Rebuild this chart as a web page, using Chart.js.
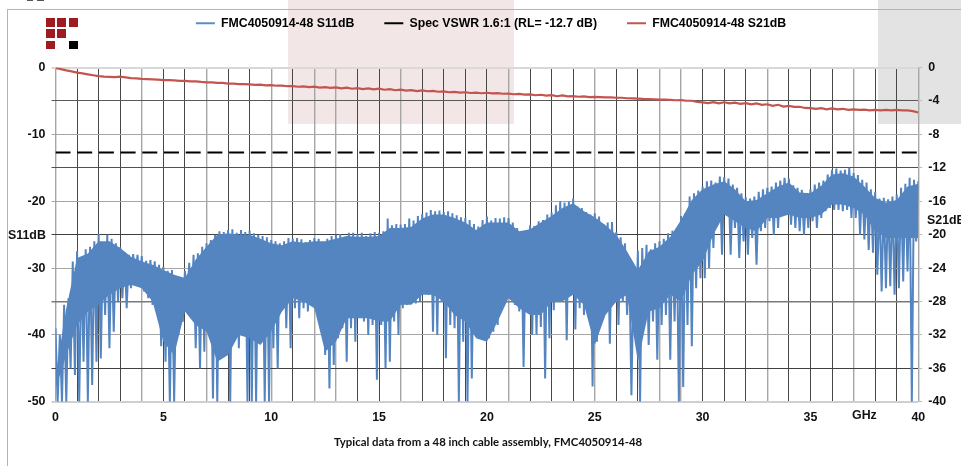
<!DOCTYPE html>
<html>
<head>
<meta charset="utf-8">
<style>
html,body{margin:0;padding:0;background:#fff;width:961px;height:466px;overflow:hidden}
#wrap{position:relative;width:961px;height:466px;overflow:hidden}
#wrap>div{position:absolute}
canvas{position:absolute;left:0;top:0}
.lab{font:bold 12.4px "Liberation Sans",Arial,sans-serif;color:#111;white-space:nowrap;line-height:14px}
</style>
<script src="https://cdn.jsdelivr.net/npm/chart.js@4/dist/chart.umd.js"></script>
</head>
<body>
<div id="wrap">
  <div style="left:288px;top:0;width:226px;height:124px;background:#f3e6e6"></div>
  <div style="left:878px;top:0;width:83px;height:124px;background:#e3e3e3"></div>
  <div style="left:7px;top:9px;width:954px;height:1px;background:#b4b4b4"></div>
  <div style="left:7px;top:9px;width:1px;height:457px;background:#b4b4b4"></div>
  <div style="left:27px;top:0;width:6px;height:1px;background:#555"></div>
  <div style="left:37px;top:0;width:7px;height:1px;background:#555"></div>
  <div style="left:46px;top:18px;width:9px;height:8.5px;background:#9e1c20"></div>
  <div style="left:57px;top:18px;width:9px;height:8.5px;background:#9e1c20"></div>
  <div style="left:69px;top:18px;width:9px;height:8.5px;background:#9e1c20"></div>
  <div style="left:46px;top:29px;width:9px;height:8.5px;background:#9e1c20"></div>
  <div style="left:57px;top:29px;width:9px;height:8.5px;background:#9e1c20"></div>
  <div style="left:46px;top:40.5px;width:9px;height:8.5px;background:#9e1c20"></div>
  <div style="left:69px;top:40.5px;width:9px;height:8.5px;background:#000"></div>
  <canvas id="c" width="961" height="466"></canvas>
  <div class="lab" style="left:8px;top:228px">S11dB</div>
  <div class="lab" style="left:927px;top:213px">S21dB</div>
  <div class="lab" style="left:852px;top:408px">GHz</div>
</div>
<script>
const legendNames = ["FMC4050914-48 S11dB", "Spec VSWR 1.6:1 (RL= -12.7 dB)", "FMC4050914-48 S21dB"];
const captionText = "Typical data from a 48 inch cable assembly, FMC4050914-48";
const specLevel = -12.7;
const specFreq = [0, 40];

// S11 peaks read every 0.2 GHz
const s11Upper = [
-39,-40,-35.5,-34.5,-29, -27.5,-29,-27.2,-26.8,-26,
-24.9,-26.5,-25,-25.6,-26.3, -26.9,-27.6,-28,-27.9,-28,
-28.2,-28.9,-28.8,-29,-29.5, -29.8,-30.4,-30.3,-31.4,-33,
-30.4,-29.2,-28,-27.8,-26.8, -26.3,-25.8,-25,-24.5,-24.6,
-24.3,-24.2,-24.7,-24.3,-24.6, -24.4,-24.8,-25,-25.2,-25.4,
-25.8,-26,-26.3,-26,-25.5, -25.6,-25.5,-25.7,-26.1,-25.8,
-25.5,-25.6,-27.5,-25.6,-25.2, -25,-24.9,-25.3,-24.7,-24.7,
-24.9,-24.7,-25.2,-24.8,-24.6, -24.7,-24.5,-22.6,-23.6,-23.4,
-23.5,-23.4,-22.6,-22.9,-22.2, -21.9,-21.7,-21.3,-21.5,-21.4,
-21.6,-21.5,-21.8,-22.1,-22.4, -22.5,-22.8,-23.4,-23.8,-22.8,
-22.3,-22.9,-22.5,-22.6,-22.4, -22.5,-23.2,-24,-25,-26.8,
-23.6,-23.7,-23,-22.8,-22, -21.7,-20.6,-20,-20.2,-20,
-19.6,-20.8,-21,-21.6,-22, -21.8,-22.3,-23.4,-23.2,-23.1,
-24.6,-25.4,-26.3,-28.8,-30, -27.4,-27,-26.5,-27.2,-26.3,
-26,-25.6,-24.8,-24.4,-24, -22.2,-21.8,-19.3,-18.8,-18.4,
-17.8,-17,-16.9,-17.2,-16.3, -16.4,-16.6,-17.5,-18,-18.8,
-19.4,-19.6,-19.3,-18.6,-18.2, -18,-17.8,-17.2,-16.9,-16.5,
-16.6,-17.6,-18,-18.3,-18.8, -18.2,-17.5,-17.2,-16.9,-16,
-15.3,-15.1,-15.4,-15.3,-15, -15.8,-16.1,-16.8,-17.2,-18.2,
-18.6,-19.6,-19.5,-19.7,-19.3, -19,-18,-17.4,-16.5,-16.8, -17
];
// S11 dips read every 0.2 GHz, offset by 0.1 GHz
const s11Lower = [
-50,-50,-50,-45,-46, -50,-44,-50,-47.5,-44,
-43.5,-37,-42,-39.5,-35, -34.5,-36,-33,-32,-31.8,
-33.5,-34.5,-35.5,-36,-41.7, -44,-50,-50,-40,-38,
-35.5,-37,-42,-45,-42.5, -38,-49.5,-50,-41,-42,
-50,-39,-42,-38.5,-50, -50,-50,-41,-50,-50,
-42,-45,-36,-39,-42, -36,-37.5,-36,-36.5,-35.5,
-36.5,-37,-43,-48,-44.5, -40.5,-39,-44,-39,-41,
-37,-38,-40,-38.5,-46.7, -38.5,-45,-44,-38,-40,
-36,-35.5,-35,-35.3,-35, -33,-34,-39.5,-40,-35,
-43.5,-38.5,-39,-50,-41, -50,-46.5,-39.6,-36.5,-38,
-40.5,-39.5,-38.5,-35.5,-34, -28,-35.5,-36.5,-44.8,-35,
-40,-40,-38.8,-46.5,-40.5, -36.3,-31,-34.5,-40.8,-34,
-39.2,-36,-37,-35,-47.7, -41,-37,-36,-41.3,-35,
-38.5,-35,-37,-49,-40, -50,-37,-41.5,-38,-43.7,
-38.5,-37,-43.7,-38,-50, -47.8,-38.5,-41.7,-33,-31.5,
-31.5,-30,-27,-23.5,-28, -22,-28,-24,-28.5,-26,
-28,-25.5,-29.5,-24.5,-24, -23,-25,-24,-21.5,-22,
-23.5,-24,-24.5,-25,-24, -23,-24,-22.5,-21.5,-21,
-21.3,-21.3,-21.5,-21.3,-22.5, -22.5,-25,-25.7,-27.3,-27.7,
-31,-33.5,-33,-32.7,-34, -33,-32,-30.5,-50,-26
];
// Solid body of the S11 trace, read every 0.5 GHz
const s11BodyTop = [
-46,-36,-28.5,-27.8,-26,-26,-27,-28.3,-29,-29.5,-30.3,-31,-31.5,-28.7,-26.8,-25,-24.8,-25,-25,-25.6,
-26.3,-26.6,-26,-26.2,-26,-26,-25.6,-25.2,-25.3,-25.3,-25.2,-24,-24,-23.8,-22.6,-22,-22,-22.5,-23.2,-24.3,
-23.2,-23.2,-23.2,-24.5,-24.2,-23.2,-22.2,-21,-20.3,-21.5,-22.4,-23.6,-25,-27.5,-30.3,-27.5,-26.8,-25.3,-22.8,-19.8,
-18.2,-17.5,-17,-18.2,-20,-19.8,-18.8,-17.8,-17.2,-18.7,-18.8,-17.7,-16,-15.8,-16.3,-17.8,-19.5,-20.2,-19.8,-17.8,-17.4
];
const s11BodyBottom = [
-48,-43,-38.5,-36.5,-35.5,-34,-33,-32.5,-33,-35,-41,-43,-36.5,-38.5,-39.5,-44,-43,-40,-40.5,-41.5,
-39.5,-36.5,-34.5,-35,-36,-42.5,-41,-37.5,-37.5,-37.5,-38,-38,-35.5,-35.5,-34,-34,-35,-37,-38,-40.5,
-41,-38,-34.5,-36,-37,-37,-35,-35,-34,-35.5,-41.5,-37,-35,-34,-44,-36.5,-36,-34,-35,-31,
-29,-25,-22,-23,-24,-24.5,-22.5,-22.5,-22,-22.5,-22.5,-22,-20.5,-20.5,-21,-22,-24.5,-25.5,-25.5,-25.5,-25.5
];
// S21 read every 0.25 GHz, right axis
const s21Values = [
-0.05,-0.2,-0.35,-0.47,-0.62,-0.7,-0.82,-0.93,-1.03,-1.09,-1.12,-1.14,-1.1,-1.18,-1.26,-1.3,
-1.36,-1.39,-1.43,-1.46,-1.5,-1.52,-1.55,-1.59,-1.6,-1.66,-1.67,-1.73,-1.77,-1.78,-1.84,-1.85,
-1.92,-1.93,-1.99,-2.0,-2.03,-2.08,-2.06,-2.13,-2.12,-2.18,-2.17,-2.24,-2.22,-2.3,-2.26,-2.34,
-2.3,-2.4,-2.34,-2.44,-2.38,-2.5,-2.42,-2.54,-2.46,-2.58,-2.5,-2.62,-2.54,-2.66,-2.6,-2.72,
-2.66,-2.76,-2.7,-2.82,-2.74,-2.84,-2.8,-2.9,-2.86,-2.96,-2.92,-3.0,-2.96,-3.05,-3.0,-3.08,
-3.02,-3.1,-3.06,-3.14,-3.12,-3.2,-3.16,-3.24,-3.22,-3.32,-3.26,-3.36,-3.3,-3.44,-3.34,-3.46,
-3.42,-3.5,-3.46,-3.54,-3.52,-3.54,-3.58,-3.58,-3.62,-3.62,-3.68,-3.7,-3.72,-3.76,-3.78,-3.8,
-3.84,-3.84,-3.88,-3.92,-3.9,-3.98,-3.98,-4.12,-4.18,-4.26,-4.14,-4.28,-4.16,-4.3,-4.2,-4.34,
-4.26,-4.42,-4.3,-4.46,-4.4,-4.58,-4.46,-4.68,-4.6,-4.72,-4.7,-4.84,-4.86,-4.96,-4.86,-5.0,
-4.9,-5.0,-4.94,-5.06,-5.02,-5.08,-5.04,-5.12,-5.08,-5.12,-5.06,-5.12,-5.06,-5.14,-5.12,-5.22,-5.38
];
const grayFreqGrid = [0,4,7,10,12,13,16,21,25,28,29,33,37,40];
const hGridColors = ["#d9d9d9","#595959","#a6a6a6","#505050","#a6a6a6","#404040","#a6a6a6","#7a7a7a","#a6a6a6","#404040","#d0d0d0"];
const hGridWidths = [2,1,1,1,1,1,1,1.5,1,1,2];

const s11Zigzag = [];
s11Lower.forEach((v,i)=>{
  s11Zigzag.push({x:+(i*0.2).toFixed(1), y:s11Upper[i]});
  s11Zigzag.push({x:+(i*0.2+0.1).toFixed(1), y:v});
});
s11Zigzag.push({x:40, y:s11Upper[200]});
const bodyTop = s11BodyTop.map((y,i)=>({x:i*0.5,y}));
const bodyBottom = s11BodyBottom.map((y,i)=>({x:i*0.5,y}));
const s21Points = s21Values.map((y,i)=>({x:i*0.25,y}));
const specPoints = specFreq.map(x=>({x,y:specLevel}));

const BLUE="#5485C0", RED="#C4544F";
const legendColors=["#5b8cc6","#000000",RED];
const sans='"Liberation Sans",Arial,sans-serif';
const tickFont={family:sans,size:12.4,weight:"bold"};

new Chart(document.getElementById("c"),{
  type:"line",
  data:{datasets:[
    {label:legendNames[2],data:s21Points,yAxisID:"y2",borderColor:RED,borderWidth:2.2,pointRadius:0,tension:0,order:1},
    {label:legendNames[1],data:specPoints,yAxisID:"y",borderColor:"#000",borderWidth:2,borderDash:[15,6.7],pointRadius:0,tension:0,order:2},
    {label:legendNames[0],data:s11Zigzag,yAxisID:"y",borderColor:BLUE,borderWidth:2,pointRadius:0,tension:0,order:3},
    {label:"body top",data:bodyTop,yAxisID:"y",borderWidth:0,borderColor:"transparent",pointRadius:0,tension:0,order:4,fill:{target:4},backgroundColor:BLUE},
    {label:"body bottom",data:bodyBottom,yAxisID:"y",borderWidth:0,borderColor:"transparent",pointRadius:0,tension:0,order:5}
  ]},
  options:{
    responsive:false,animation:false,devicePixelRatio:1,
    layout:{padding:{top:-13,left:15,right:0,bottom:0}},
    plugins:{
      tooltip:{enabled:false},
      legend:{
        display:true,position:"top",align:"center",
        labels:{
          boxWidth:19,boxHeight:2,padding:30,
          font:{family:sans,size:12.3,weight:"bold"},color:"#111",
          generateLabels:()=>legendNames.map((t,i)=>({text:t,fillStyle:legendColors[i],strokeStyle:legendColors[i],lineWidth:0,datasetIndex:i,hidden:false}))
        }
      },
      title:{
        display:true,position:"bottom",text:captionText,
        font:{family:'Lato,sans-serif',size:11.4,weight:"bold"},color:"#111",
        padding:{top:6,bottom:16.5}
      }
    },
    scales:{
      x:{
        type:"linear",min:0,max:40,
        afterFit:s=>{s.height=28;},
        afterBuildTicks:s=>{s.ticks=Array.from({length:41},(_,i)=>({value:i}));},
        ticks:{autoSkip:false,maxRotation:0,padding:8,color:"#111",font:tickFont,callback:v=>v%5===0?String(v):""},
        grid:{drawTicks:false,color:c=>grayFreqGrid.includes(c.tick.value)?"#a6a6a6":"#484848",lineWidth:c=>grayFreqGrid.includes(c.tick.value)?1.4:1},
        border:{display:false}
      },
      y:{
        position:"left",min:-50,max:0,
        afterFit:s=>{s.width=40.5;},
        ticks:{stepSize:5,autoSkip:false,padding:6,color:"#111",font:tickFont,callback:v=>v%10===0?String(v):""},
        grid:{tickLength:4,color:c=>hGridColors[Math.round(-c.tick.value/5)],lineWidth:c=>hGridWidths[Math.round(-c.tick.value/5)]},
        border:{display:false}
      },
      y2:{
        position:"right",min:-40,max:0,
        afterFit:s=>{s.width=42.7;},
        ticks:{stepSize:4,autoSkip:false,padding:6,color:"#111",font:tickFont},
        grid:{drawOnChartArea:false,tickLength:4,color:"#bdbdbd"},
        border:{display:false}
      }
    }
  },
  plugins:[{
    id:"fixLegendBox",
    beforeLayout(chart){
      const lg=chart.legend;
      if(lg && !lg._wrapped){
        const f=lg.fit;
        lg.fit=function(){f.call(this);this.height=80.5;};
        lg._wrapped=true;
      }
    },
    afterLayout(chart){
      const lg=chart.legend;
      if(lg){lg.left+=3;lg.right+=3;if(lg.adjustHitBoxes)lg.adjustHitBoxes();}
    }
  }]
});
</script>
</body>
</html>
